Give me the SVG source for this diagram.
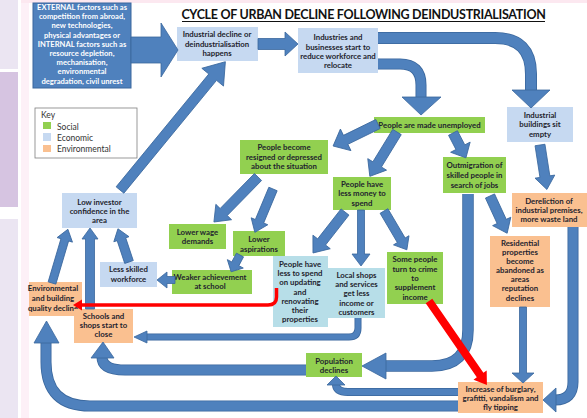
<svg xmlns="http://www.w3.org/2000/svg" width="587" height="418" viewBox="0 0 587 418">
<style>
.t{font-family:Lato,"Liberation Sans",sans-serif;font-weight:bold;font-size:7.8px;fill:#1f1f2e;text-anchor:middle}
.w{fill:#ffffff;font-size:7.6px}
.k{font-family:Lato,"Liberation Sans",sans-serif;font-size:8.5px;fill:#333333}
.g{fill:#92d050}
.b{fill:#c6d9f1}
.a{fill:#b7dee8}
.o{fill:#fac090}
.ar{fill:#4f81bd;stroke:#3a679d;stroke-width:0.8}
.co{fill:none;stroke:#3a679d}
.ci{fill:none;stroke:#4f81bd}
.red{fill:#ff0000}
</style>
<rect width="587" height="418" fill="#ffffff"/>
<rect x="0" y="0" width="18" height="69" fill="#ebe5f2"/>
<rect x="0" y="72" width="18" height="135" fill="#d6c4e1"/>
<rect x="0" y="219" width="18" height="199" fill="#ebe5f2"/>
<rect x="21" y="0" width="8" height="418" fill="#fdf0f7"/>
<rect x="21" y="0" width="566" height="3" fill="#fce8f0"/>

<g id="title">
<text x="363.5" y="19" text-anchor="middle" font-family="Lato,'Liberation Sans',sans-serif" font-weight="bold" font-size="12.5" letter-spacing="-0.3" fill="#111">CYCLE OF URBAN DECLINE FOLLOWING DEINDUSTRIALISATION</text>
<line x1="182" y1="21.5" x2="545" y2="21.5" stroke="#111" stroke-width="1"/>
</g>

<g id="key">
<rect x="35" y="108" width="102" height="50" fill="#ffffff" stroke="#7f7f7f" stroke-width="0.8"/>
<text class="k" x="41" y="118">Key</text>
<rect class="g" x="43" y="122" width="8" height="7"/>
<rect class="b" x="43" y="133" width="8" height="8"/>
<rect class="o" x="43" y="145" width="8" height="7"/>
<text class="k" x="57" y="130">Social</text>
<text class="k" x="57" y="141">Economic</text>
<text class="k" x="57" y="152">Environmental</text>
</g>

<g id="external">
<rect x="33" y="3" width="98" height="85" fill="#4f81bd" stroke="#3a679d" stroke-width="1"/>
<text class="t w" x="82" y="10">EXTERNAL factors such as</text>
<text class="t w" x="82" y="19.2">competition from abroad,</text>
<text class="t w" x="82" y="28.4">new technologies,</text>
<text class="t w" x="82" y="37.6">physical advantages or</text>
<text class="t w" x="82" y="46.8">INTERNAL factors such as</text>
<text class="t w" x="82" y="56">resource depletion,</text>
<text class="t w" x="82" y="65.2">mechanisation,</text>
<text class="t w" x="82" y="74.4">environmental</text>
<text class="t w" x="82" y="83.6">degradation, civil unrest</text>
</g>

<g id="industrial-decline">
<rect class="b" x="177" y="27" width="81" height="34"/>
<text class="t" x="217" y="37">Industrial decline or</text>
<text class="t" x="217" y="47">deindustrialisation</text>
<text class="t" x="217" y="56">happens</text>
</g>

<g id="industries">
<rect class="b" x="298" y="28" width="80" height="45"/>
<text class="t" x="338" y="40">Industries and</text>
<text class="t" x="338" y="50">businesses start to</text>
<text class="t" x="338" y="59">reduce workforce and</text>
<text class="t" x="338" y="68">relocate</text>
</g>

<g id="buildings-empty">
<rect class="b" x="507" y="107" width="66" height="35"/>
<text class="t" x="540" y="118">Industrial</text>
<text class="t" x="540" y="127">buildings sit</text>
<text class="t" x="540" y="137">empty</text>
</g>

<g id="unemployed">
<rect class="g" x="374" y="117" width="111" height="16"/>
<text class="t" x="429.5" y="128">People are made unemployed</text>
</g>

<g id="resigned">
<rect class="g" x="240" y="140" width="88" height="34"/>
<text class="t" x="284" y="150">People become</text>
<text class="t" x="284" y="160">resigned or depressed</text>
<text class="t" x="284" y="169">about the situation</text>
</g>

<g id="less-money">
<rect class="g" x="333" y="177" width="58" height="33"/>
<text class="t" x="362" y="187">People have</text>
<text class="t" x="362" y="196">less money to</text>
<text class="t" x="362" y="206">spend</text>
</g>

<g id="outmigration">
<rect class="g" x="443" y="157" width="63" height="36"/>
<text class="t" x="474.5" y="168">Outmigration of</text>
<text class="t" x="474.5" y="178">skilled people in</text>
<text class="t" x="474.5" y="188">search of jobs</text>
</g>

<g id="dereliction">
<rect class="o" x="512" y="193" width="75" height="34"/>
<text class="t" x="549" y="204">Dereliction of</text>
<text class="t" x="549" y="213">industrial premises,</text>
<text class="t" x="549" y="222">more waste land</text>
</g>

<g id="residential">
<rect class="o" x="490" y="236" width="60" height="71"/>
<text class="t" x="520" y="246">Residential</text>
<text class="t" x="520" y="255">properties</text>
<text class="t" x="520" y="264">become</text>
<text class="t" x="520" y="273">abandoned as</text>
<text class="t" x="520" y="282">areas</text>
<text class="t" x="520" y="291">reputation</text>
<text class="t" x="520" y="301">declines</text>
</g>

<g id="lower-wage">
<rect class="g" x="169" y="224" width="57" height="25"/>
<text class="t" x="197.5" y="235">Lower wage</text>
<text class="t" x="197.5" y="244">demands</text>
</g>

<g id="lower-aspirations">
<rect class="g" x="233" y="231" width="52" height="25"/>
<text class="t" x="259" y="242">Lower</text>
<text class="t" x="259" y="252">aspirations</text>
</g>

<g id="weaker">
<rect class="g" x="172" y="270" width="80" height="24"/>
<text class="t" x="210" y="280">Weaker achievement</text>
<text class="t" x="210" y="289">at school</text>
</g>

<g id="less-skilled">
<rect class="b" x="100" y="262" width="57" height="25"/>
<text class="t" x="128.5" y="272">Less skilled</text>
<text class="t" x="128.5" y="282">workforce</text>
</g>

<g id="low-investor">
<rect class="b" x="62" y="193" width="75" height="35"/>
<text class="t" x="99.5" y="205">Low investor</text>
<text class="t" x="99.5" y="214">confidence in the</text>
<text class="t" x="99.5" y="223">area</text>
</g>

<g id="environmental">
<rect class="o" x="29" y="282" width="53" height="34"/>
<text class="t" x="53" y="291">Environmental</text>
<text class="t" x="53" y="301">and building</text>
<text class="t" x="53" y="311">quality decline</text>
</g>

<g id="schools">
<rect class="o" x="74" y="309" width="59" height="34"/>
<text class="t" x="103.5" y="319">Schools and</text>
<text class="t" x="103.5" y="328">shops start to</text>
<text class="t" x="103.5" y="337">close</text>
</g>

<g id="less-to-spend">
<rect class="a" x="273" y="256" width="55" height="71"/>
<text class="t" x="300" y="267">People have</text>
<text class="t" x="300" y="276">less  to spend</text>
<text class="t" x="300" y="285">on updating</text>
<text class="t" x="300" y="295">and</text>
<text class="t" x="300" y="304">renovating</text>
<text class="t" x="300" y="313">their</text>
<text class="t" x="300" y="322">properties</text>
</g>

<g id="local-shops">
<rect class="a" x="328" y="268" width="57" height="50"/>
<text class="t" x="356.5" y="278">Local shops</text>
<text class="t" x="356.5" y="287">and services</text>
<text class="t" x="356.5" y="296">get less</text>
<text class="t" x="356.5" y="306">income or</text>
<text class="t" x="356.5" y="315">customers</text>
</g>

<g id="crime">
<rect class="g" x="387" y="252" width="56" height="52"/>
<text class="t" x="415" y="262">Some people</text>
<text class="t" x="415" y="272">turn to crime</text>
<text class="t" x="415" y="281">to</text>
<text class="t" x="415" y="290">supplement</text>
<text class="t" x="415" y="300">income</text>
</g>

<g id="population">
<rect class="g" x="306" y="353" width="56" height="24"/>
<text class="t" x="334" y="364">Population</text>
<text class="t" x="334" y="373">declines</text>
</g>

<g id="increase">
<rect class="o" x="458" y="382" width="85" height="31"/>
<text class="t" x="500.5" y="392">Increase of burglary,</text>
<text class="t" x="500.5" y="401">grafitti, vandalism and</text>
<text class="t" x="500.5" y="410">fly tipping</text>
</g>

<g id="connectors">
<path class="ar" transform="translate(131,50)" d="M0,-13H30V-27L47,0L30,27V13H0Z"/>
<path class="ar" transform="translate(258,44)" d="M0,-5.5H27V-12L40,0L27,12V5.5H0Z"/>
<path class="ar" transform="translate(120,190) rotate(-50.6)" d="M0,-5H146V-14L166,0L146,14V5H0Z"/>
<path class="ar" transform="translate(378,124) rotate(153.9)" d="M0,-5H36V-12L50,0L36,12V5H0Z"/>
<path class="ar" transform="translate(397,132) rotate(121.5)" d="M0,-5H38V-11L52,0L38,11V5H0Z"/>
<path class="ar" transform="translate(453,133) rotate(62.5)" d="M0,-5H16V-11L28,0L16,11V5H0Z"/>
<path class="ar" transform="translate(540,145) rotate(81.2)" d="M0,-5H32V-10L45,0L32,10V5H0Z"/>
<path class="ar" transform="translate(490,196) rotate(65.3)" d="M0,-5H28V-10L41,0L28,10V5H0Z"/>
<path class="ar" transform="translate(523,307) rotate(90)" d="M0,-3.5H66V-11L76,0L66,11V3.5H0Z"/>
<path class="ar" transform="translate(258,177) rotate(134.4)" d="M0,-5H49V-11L63,0L49,11V5H0Z"/>
<path class="ar" transform="translate(273,189) rotate(112.7)" d="M0,-4.5H35V-9L47,0L35,9V4.5H0Z"/>
<path class="ar" transform="translate(240,255) rotate(117.9)" d="M0,-4H10V-9L19,0L10,9V4H0Z"/>
<path class="ar" transform="translate(175,280) rotate(180)" d="M0,-3.5H8V-8L18,0L8,8V3.5H0Z"/>
<path class="ar" transform="translate(129,262) rotate(-108.4)" d="M0,-4.5H24V-8L35,0L24,8V4.5H0Z"/>
<path class="ar" transform="translate(90,309) rotate(-90)" d="M0,-4.5H70V-8L81,0L70,8V4.5H0Z"/>
<path class="ar" transform="translate(52,283) rotate(-73.5)" d="M0,-4H45V-8L56,0L45,8V4H0Z"/>
<path class="ar" transform="translate(345,212) rotate(128)" d="M0,-5H38V-11L52,0L38,11V5H0Z"/>
<path class="ar" transform="translate(361,210) rotate(90)" d="M0,-3.5H44V-9L56,0L44,9V3.5H0Z"/>
<path class="ar" transform="translate(384,211) rotate(59.5)" d="M0,-4.5H34V-9L45,0L34,9V4.5H0Z"/>

<path class="co" stroke-width="12" d="M378,38 H495 Q531,38 531,74 V91"/>
<path class="ci" stroke-width="10.4" d="M378,38 H495 Q531,38 531,74 V91"/>
<polygon class="ar" points="512,90 550,90 531,108"/>

<path class="co" stroke-width="11" d="M378,64 H400 Q421,64 421,85 V98"/>
<path class="ci" stroke-width="9.4" d="M378,64 H400 Q421,64 421,85 V98"/>
<polygon class="ar" points="402,97 441,97 421,115"/>

<path class="co" stroke-width="11.5" d="M468,194 V330 Q468,366 432,366 H385"/>
<path class="ci" stroke-width="9.9" d="M468,194 V330 Q468,366 432,366 H385"/>
<polygon class="ar" points="386,353 386,379 362,366"/>

<path class="co" stroke-width="7" d="M358,318 V328 Q358,337 349,337 H146"/>
<path class="ci" stroke-width="5.4" d="M358,318 V328 Q358,337 349,337 H146"/>
<polygon class="ar" points="147,331 147,343 134,337"/>

<path class="co" stroke-width="11" d="M306,370 H125 Q102,370 102,357"/>
<path class="ci" stroke-width="9.4" d="M306,370 H125 Q102,370 102,357"/>
<polygon class="ar" points="91,358 114,358 103,342"/>

<path class="co" stroke-width="8" d="M458,392 H348 Q336,392 336,384"/>
<path class="ci" stroke-width="6.4" d="M458,392 H348 Q336,392 336,384"/>
<polygon class="ar" points="327,385 345,385 336,376"/>

<path class="co" stroke-width="11" d="M458,406 H90 Q46,406 46,362 V342"/>
<path class="ci" stroke-width="9.4" d="M458,406 H90 Q46,406 46,362 V342"/>
<polygon class="ar" points="34,343 59,343 46.5,321"/>

<path class="co" stroke-width="11" d="M573,227 V382 Q573,400 555,400"/>
<path class="ci" stroke-width="9.4" d="M573,227 V382 Q573,400 555,400"/>
<polygon class="ar" points="556,388 556,412 543,400"/>

<path fill="none" stroke="#ff0000" stroke-width="3.5" d="M276.5,288 V297 Q276.5,305 268,305 H81"/>
<polygon class="red" points="82,299.5 82,310.5 73,305"/>
<path class="red" transform="translate(429,301) rotate(55.4)" d="M0,-4H90V-8L102,0L90,8V4H0Z"/>
</g>
</svg>
